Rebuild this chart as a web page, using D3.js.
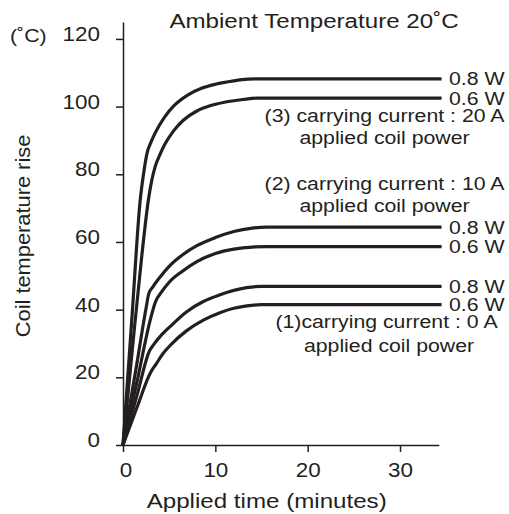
<!DOCTYPE html>
<html>
<head>
<meta charset="utf-8">
<script src="https://cdn.jsdelivr.net/npm/d3@7"></script>
<style>
  body { margin: 0; background: #fff; }
  text { font-family: "Liberation Sans", Arial, sans-serif; fill: #231f20; }
</style>
</head>
<body>
<div id="chart"></div>
<script>
// curves: [minutes, temperature rise]
var c20A_08W = [[0,0],[1.0,39],[1.85,72],[2.3,81.5],[2.6,86.2],[3.0,89.3],[3.5,92.3],[4.5,96.9],[5.5,100.2],[7,103.4],[8.5,105.4],[10,106.6],[12,107.6],[13.5,108.1],[14.5,108.2],[34.5,108.2]];
var c20A_06W = [[0,0],[1.0,28],[2.0,55],[2.75,72.4],[3.1,78],[3.5,82.4],[4,85.8],[4.5,88.7],[5.5,92.9],[6.5,95.9],[8,98.7],[9.5,100.3],[11,101.3],[13,102.1],[14.5,102.5],[34.5,102.5]];
var c10A_08W = [[0,0],[1.5,24],[2.5,40.5],[2.8,44.8],[3.2,46.6],[4,49.6],[5,52.8],[6.5,56.3],[8,58.9],[10,61.3],[12,63.1],[14,64.1],[15.5,64.4],[34.5,64.4]];
var c10A_06W = [[0,0],[1.5,18.5],[3.0,37.5],[3.5,42.2],[4.2,45.3],[5,48.1],[6.4,51.3],[8,54.2],[10,56.6],[12,57.9],[14,58.5],[15.5,58.6],[34.5,58.6]];
var c0A_08W = [[0,0],[1.5,14.5],[2.9,28],[3.3,29.6],[4.2,32.6],[5.1,35.0],[6.9,39.4],[8.7,42.4],[10.5,44.4],[12,45.7],[13.4,46.5],[15,46.9],[34.5,46.9]];
var c0A_06W = [[0,0],[1.5,11],[3.0,21.5],[3.6,24.0],[4.3,26.9],[5.1,29.4],[6.9,33.8],[8.7,36.9],[10.5,39.1],[12,40.4],[13.4,41.1],[15,41.5],[34.5,41.5]];

var curves = [c20A_08W, c20A_06W, c10A_08W, c10A_06W, c0A_08W, c0A_06W];
var powerLabels = ["0.8 W", "0.6 W", "0.8 W", "0.6 W", "0.8 W", "0.6 W"];

var xTicks = [0, 10, 20, 30];
var yTicks = [0, 20, 40, 60, 80, 100, 120];

var W = 509, H = 514;
var stretch = 1.15; // the source type is drawn a bit wide

var svg = d3.select("#chart").append("svg")
	.attr("width", W)
	.attr("height", H);

var x = d3.scaleLinear().domain([0, 34.2]).range([123, 438.8]);
var y = d3.scaleLinear().domain([0, 125]).range([445, 22]);

function label(str, tx, ty, size, anchor) {
	return svg.append("text")
		.attr("transform", "translate(" + tx + "," + ty + ") scale(" + stretch + ",1)")
		.attr("text-anchor", anchor || "start")
		.style("font-size", size + "px")
		.text(str);
}

// axes
var gx = svg.append("g")
	.attr("transform", "translate(0," + y(0) + ")")
	.call(d3.axisBottom(x).tickValues(xTicks).tickSize(7).tickSizeOuter(0));
gx.selectAll("text")
	.attr("y", null).attr("dy", null)
	.attr("transform", function(d) { return "translate(" + (d === 0 ? 2.5 : 0) + ",31.7) scale(" + stretch + ",1)"; })
	.style("font-size", "19.5px");

var gy = svg.append("g")
	.attr("transform", "translate(" + x(0) + ",0)")
	.call(d3.axisLeft(y).tickValues(yTicks).tickSize(7).tickSizeOuter(0));
gy.selectAll("text")
	.attr("x", null).attr("dy", null)
	.attr("transform", "translate(-23,1.5) scale(" + stretch + ",1)")
	.style("font-size", "19.5px");

svg.selectAll(".domain, .tick line")
	.attr("stroke", "#231f20")
	.attr("stroke-width", 1.5);
svg.selectAll(".tick text").attr("fill", "#231f20")
	.style("font-family", "'Liberation Sans', Arial, sans-serif");

// curves
var line = d3.line()
	.x(function(d) { return x(d[0]); })
	.y(function(d) { return y(d[1]); })
	.curve(d3.curveMonotoneX);

svg.append("g").selectAll("path")
	.data(curves)
	.join("path")
		.attr("d", line)
		.attr("fill", "none")
		.attr("stroke", "#231f20")
		.attr("stroke-width", 3.2)
		.attr("stroke-linejoin", "round");

// power labels at the end of each curve
curves.forEach(function(c, i) {
	var last = c[c.length - 1];
	label(powerLabels[i], 449, y(last[1]) + 6.5, 18.5, "start");
});

// annotations
label("(3) carrying current : 20 A", 384.5, 122, 18.5, "middle");
label("applied coil power", 384.5, 143.5, 18.5, "middle");
label("(2) carrying current : 10 A", 384.5, 189.5, 18.5, "middle");
label("applied coil power", 384.5, 211.5, 18.5, "middle");
label("(1)carrying current : 0 A", 386.5, 328, 18.5, "middle");
label("applied coil power", 389, 351.5, 18.5, "middle");

// titles
label("Ambient Temperature 20˚C", 314, 28.3, 21, "middle");
label("(˚C)", 10, 42, 18.5, "start");
label("Applied time (minutes)", 266.7, 508.3, 21, "middle");

svg.append("text")
	.attr("transform", "translate(30,236) rotate(-90) scale(1.12,1)")
	.attr("text-anchor", "middle")
	.style("font-size", "19.5px")
	.text("Coil temperature rise");
</script>
</body>
</html>
